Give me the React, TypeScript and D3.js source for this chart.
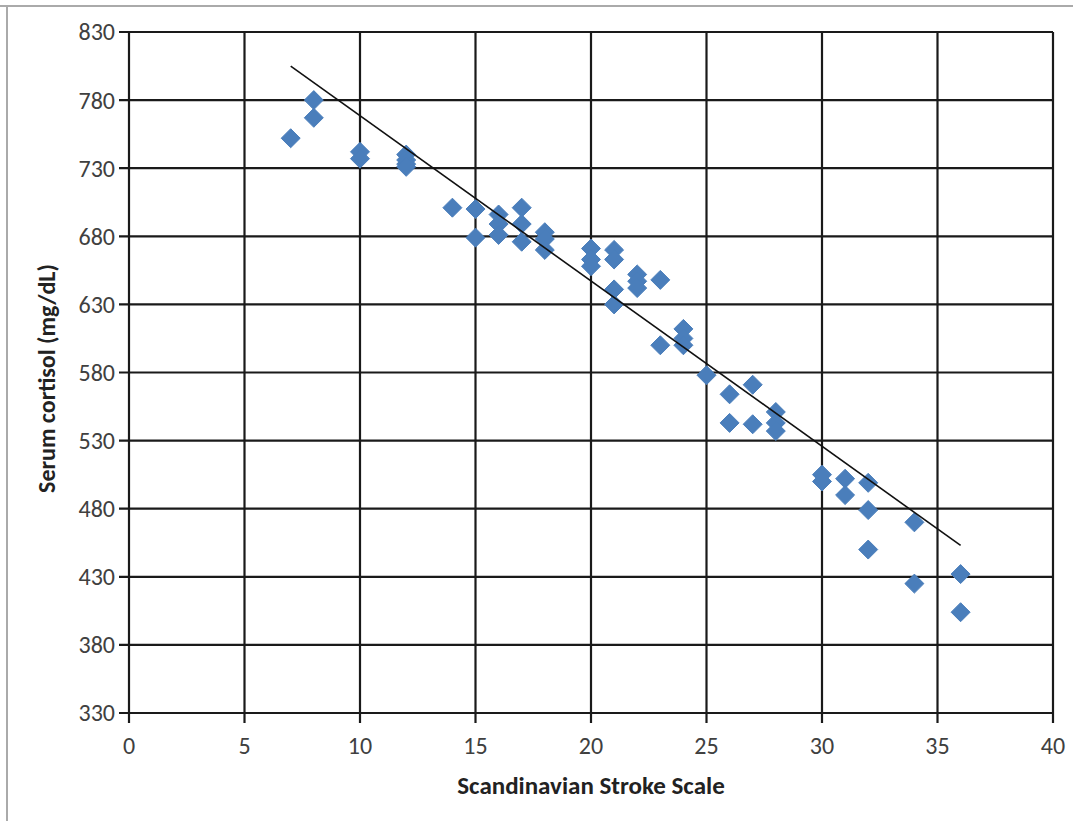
import React from "react";
import * as d3 from "d3";

const sssScores: number[] = [
  7, 8, 8, 10, 10, 12, 12, 12, 12, 14, 15, 15, 16, 16, 16, 17, 17, 17, 18, 18, 18,
  20, 20, 20, 21, 21, 21, 21, 22, 22, 22, 23, 23, 24, 24, 24, 25, 26, 26, 27, 27,
  28, 28, 28, 30, 30, 31, 31, 32, 32, 32, 34, 34, 36, 36,
];
const cortisolValues: number[] = [
  752, 780, 767, 742, 737, 740, 736, 733, 731, 701, 700, 679, 696, 689, 681, 701, 689, 676, 683, 678, 670,
  671, 663, 658, 670, 663, 641, 630, 652, 647, 642, 648, 600, 612, 605, 600, 578, 564, 543, 571, 542,
  551, 543, 537, 505, 500, 502, 490, 499, 479, 450, 470, 425, 432, 404,
];
const trendX: number[] = [7, 36];
const trendY: number[] = [805, 453];
const xTicks: number[] = [0, 5, 10, 15, 20, 25, 30, 35, 40];
const yTicks: number[] = [330, 380, 430, 480, 530, 580, 630, 680, 730, 780, 830];

const W = 1073;
const H = 821;
const left = 129;
const right = 1053;
const top = 32;
const bottom = 713;
const FONT = "Carlito, Calibri, 'Liberation Sans Narrow', 'Open Sans', 'DejaVu Sans', sans-serif";

export default function App() {
  const x = d3.scaleLinear().domain([0, 40]).range([left, right]);
  const y = d3.scaleLinear().domain([330, 830]).range([bottom, top]);
  const diamond = d3.symbol().type(d3.symbolDiamond2).size(230)();
  const trend = d3
    .line<number>()
    .x((d) => x(trendX[d]))
    .y((d) => y(trendY[d]))([0, 1]);

  return (
    <svg
      width={W}
      height={H}
      style={{ position: "absolute", left: 0, top: 0, background: "#fff" }}
      fontFamily={FONT}
    >
      <rect x={0} y={0} width={W} height={H} fill="#fff" />
      <line x1={0} x2={W} y1={6} y2={6} stroke="#aaa" strokeWidth={2} />
      <line x1={7} x2={7} y1={6} y2={H} stroke="#aaa" strokeWidth={2} />
      {/* grid */}
      {yTicks.map((t) => (
        <line key={"gy" + t} x1={left - 10} x2={right} y1={y(t)} y2={y(t)} stroke="#1a1a1a" strokeWidth={2.2} />
      ))}
      {xTicks.map((t) => (
        <line key={"gx" + t} x1={x(t)} x2={x(t)} y1={top} y2={bottom + 10} stroke="#1a1a1a" strokeWidth={2.2} />
      ))}
      {/* tick labels */}
      {yTicks.map((t) => (
        <text key={"ty" + t} x={left - 14} y={y(t)} dy="0.35em" textAnchor="end" fontSize={24} fill="#404040">
          {t}
        </text>
      ))}
      {xTicks.map((t) => (
        <text key={"tx" + t} x={x(t)} y={bottom + 41} textAnchor="middle" fontSize={24} fill="#404040">
          {t}
        </text>
      ))}
      {/* points */}
      {sssScores.map((s, i) => (
        <path
          key={"p" + i}
          d={diamond ?? ""}
          transform={`translate(${x(s)},${y(cortisolValues[i])})`}
          fill="#4a7ebb"
          stroke="#4a7ebb"
          strokeWidth={1}
        />
      ))}
      {/* trend line */}
      <path d={trend ?? ""} fill="none" stroke="#111" strokeWidth={1.6} />
      {/* axis titles */}
      <text x={(left + right) / 2} y={794} textAnchor="middle" fontSize={25} fontWeight="bold" fill="#222">
        Scandinavian Stroke Scale
      </text>
      <text
        transform={`translate(55,${(top + bottom) / 2 + 6}) rotate(-90)`}
        textAnchor="middle"
        fontSize={24}
        fontWeight="bold"
        fill="#222"
      >
        Serum cortisol (mg/dL)
      </text>
    </svg>
  );
}
